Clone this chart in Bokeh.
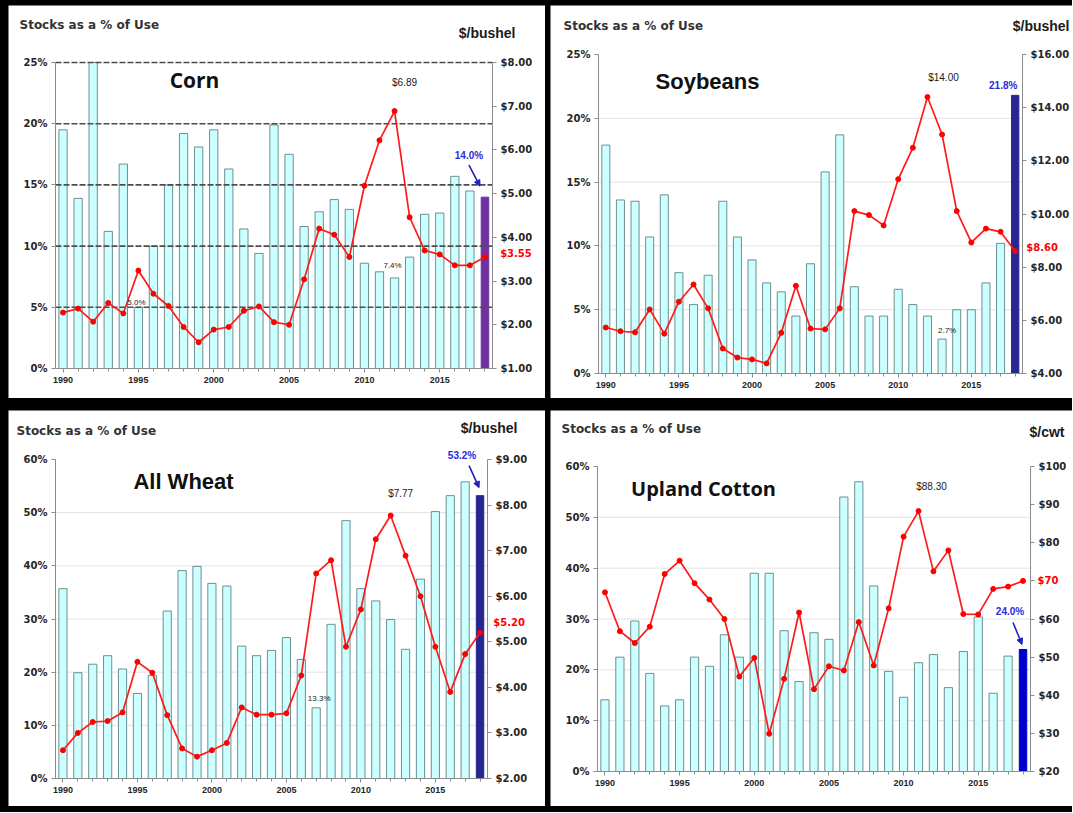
from bokeh.plotting import figure
from bokeh.models import (Range1d, LinearAxis, FixedTicker, PrintfTickFormatter,
                          NumeralTickFormatter, Label, Arrow, NormalHead)
from bokeh.layouts import row, column
from bokeh.embed import file_html
from bokeh.resources import INLINE
from bokeh.core.properties import value

# ---------------- data ----------------
years = list(range(1990, 2019))
year_ticks = [1990, 1995, 2000, 2005, 2010, 2015]

corn_stocks = [19.5, 13.9, 25.0, 11.2, 16.7, 5.0, 10.0, 15.0, 19.2, 18.1, 19.5, 16.3, 11.4, 9.4,
               19.9, 17.5, 11.6, 12.8, 13.8, 13.0, 8.6, 7.9, 7.4, 9.1, 12.6, 12.7, 15.7, 14.5, 14.0]
corn_price = [2.28, 2.37, 2.07, 2.50, 2.26, 3.24, 2.71, 2.43, 1.95, 1.60, 1.89, 1.95, 2.32, 2.42,
              2.06, 2.00, 3.04, 4.20, 4.06, 3.55, 5.18, 6.22, 6.89, 4.46, 3.70, 3.61, 3.36, 3.36, 3.55]

soy_stocks = [17.9, 13.6, 13.5, 10.7, 14.0, 7.9, 5.4, 7.7, 13.5, 10.7, 8.9, 7.1, 6.4, 4.5,
              8.6, 15.8, 18.7, 6.8, 4.5, 4.5, 6.6, 5.4, 4.5, 2.7, 5.0, 5.0, 7.1, 10.2, 21.8]
soy_price = [5.73, 5.59, 5.55, 6.41, 5.50, 6.70, 7.35, 6.45, 4.94, 4.60, 4.53, 4.38, 5.53, 7.30,
             5.69, 5.66, 6.45, 10.11, 9.96, 9.57, 11.31, 12.49, 14.40, 12.99, 10.11, 8.93, 9.45, 9.33, 8.60]

wheat_stocks = [35.7, 19.9, 21.5, 23.1, 20.6, 16.0, 19.4, 31.5, 39.1, 39.9, 36.7, 36.2, 24.9, 23.1,
                24.1, 26.5, 22.4, 13.3, 29.0, 48.5, 35.7, 33.4, 29.9, 24.3, 37.5, 50.2, 53.2, 55.8, 53.2]
wheat_price = [2.62, 3.00, 3.24, 3.26, 3.45, 4.56, 4.32, 3.39, 2.66, 2.48, 2.62, 2.78, 3.56, 3.40,
               3.40, 3.43, 4.26, 6.50, 6.79, 4.89, 5.71, 7.25, 7.77, 6.89, 6.00, 4.89, 3.90, 4.73, 5.20]

cotton_stocks = [14.1, 22.5, 29.6, 19.3, 12.9, 14.1, 22.5, 20.7, 26.9, 22.5, 39.0, 39.0, 27.7, 17.7,
                 27.3, 26.0, 54.0, 57.0, 36.5, 19.7, 14.6, 21.4, 23.0, 16.5, 23.6, 30.4, 15.4, 22.7, 24.0]
cotton_price = [67.0, 56.8, 53.7, 58.0, 71.8, 75.3, 69.4, 65.1, 60.0, 44.9, 49.8, 29.9, 44.3, 61.7,
                41.6, 47.6, 46.5, 59.2, 47.8, 62.8, 81.6, 88.3, 72.5, 78.0, 61.3, 61.2, 67.9, 68.5, 70.0]

titles = ["Corn", "Soybeans", "All Wheat", "Upland Cotton"]
left_axis_title = "Stocks as a % of Use"
units = ["$/bushel", "$/bushel", "$/bushel", "$/cwt"]
peak_labels = ["$6.89", "$14.00", "$7.77", "$88.30"]
low_label_years = [[1995, 2012], [2013], [2007], []]

pct_ticks_25 = [0, 5, 10, 15, 20, 25]
pct_ticks_60 = [0, 10, 20, 30, 40, 50, 60]
corn_price_ticks = [1, 2, 3, 4, 5, 6, 7, 8]
soy_price_ticks = [4, 6, 8, 10, 12, 14, 16]
wheat_price_ticks = [2, 3, 4, 5, 6, 7, 8, 9]
cotton_price_ticks = [20, 30, 40, 50, 60, 70, 80, 90, 100]

# ---------------- styling per panel ----------------
FONT = "DejaVu Sans"
X0, X1 = 1989.5, 2018.5   # x-range between the two value axes

# L/R/T/B: pixel position (within the panel) of left axis, right axis, top tick, zero line
cfgs = [
    dict(stocks=corn_stocks, price=corn_price, pct_ticks=pct_ticks_25, price_ticks=corn_price_ticks,
         price_fmt="$0.00", W=537, H=393, L=47, R=484, T=57, B=363,
         title_font="Open Sans", title_size="21px", title_pos=(186, 74),
         stk_pos=(11, 19), unit_pos=(507, 27),
         last_color="#7030a0", dark_grid=True,
         blue=(-16, -42), arrow=(-16, -32, -5, -11), red=(31, -4), peak=(10, -29),
         low=[(-2, -5), (-2, -12)], hide_tick=None),
    dict(stocks=soy_stocks, price=soy_price, pct_ticks=pct_ticks_25, price_ticks=soy_price_ticks,
         price_fmt="$0.00", W=522, H=393, L=48, R=472, T=49, B=368,
         title_font="Liberation Sans", title_size="22px", title_pos=(157, 76),
         stk_pos=(13, 20), unit_pos=(519, 20),
         last_color="#27288f", dark_grid=False,
         blue=(-12, -10), arrow=None, red=(27, -4), peak=(16, -20),
         low=[(5, -9)], hide_tick=None),
    dict(stocks=wheat_stocks, price=wheat_price, pct_ticks=pct_ticks_60, price_ticks=wheat_price_ticks,
         price_fmt="$0.00", W=537, H=396, L=47, R=479, T=49, B=368,
         title_font="Liberation Sans", title_size="22px", title_pos=(175, 71),
         stk_pos=(8, 20), unit_pos=(509, 17),
         last_color="#262691", dark_grid=False,
         blue=(-18, -40), arrow=(-11, -30, -1, -8), red=(29, -10), peak=(10, -22),
         low=[(3, -9)], hide_tick=None),
    dict(stocks=cotton_stocks, price=cotton_price, pct_ticks=pct_ticks_60, price_ticks=cotton_price_ticks,
         price_fmt="$0", W=522, H=396, L=47, R=480, T=56, B=361,
         title_font="Open Sans", title_size="20px", title_pos=(153, 78),
         stk_pos=(11, 18), unit_pos=(514, 21),
         last_color="#0000cc", dark_grid=False,
         blue=(-13, -38), arrow=(-10, -27, -1, -5), red=(25, 0), peak=(13, -25),
         low=[], hide_tick=70),
]


def make_panel(i, c):
    stocks, price = c["stocks"], c["price"]
    ymax = c["pct_ticks"][-1]
    pmin, pmax = c["price_ticks"][0], c["price_ticks"][-1]
    W, H, L, R, T, B = c["W"], c["H"], c["L"], c["R"], c["T"], c["B"]
    ux = (X1 - X0) / (R - L)          # years per px
    us = ymax / (B - T)               # stock % per px
    up = (pmax - pmin) / (B - T)      # price per px

    p = figure(width=W, height=H, output_backend="svg", toolbar_location=None,
               x_range=Range1d(X0 - L * ux, X0 + (W - L) * ux),
               y_range=Range1d(-(H - B) * us, B * us),
               min_border_left=0, min_border_right=0, min_border_top=0, min_border_bottom=0,
               background_fill_color="white", border_fill_color="white")
    p.extra_y_ranges = {"price": Range1d(pmin - (H - B) * up, pmin + B * up)}
    p.outline_line_color = None
    p.xgrid.visible = False
    p.ygrid.visible = False

    # axes (all drawn inside the frame at fixed locations)
    p.xaxis.ticker = FixedTicker(ticks=year_ticks, minor_ticks=years)
    p.xaxis.fixed_location = 0
    p.xaxis.bounds = (X0, X1)
    p.yaxis.ticker = FixedTicker(ticks=c["pct_ticks"])
    p.yaxis.formatter = PrintfTickFormatter(format="%d%%")
    p.yaxis.fixed_location = X0
    p.yaxis.bounds = (0, ymax)
    ra = LinearAxis(y_range_name="price", ticker=FixedTicker(ticks=c["price_ticks"]),
                    formatter=NumeralTickFormatter(format=c["price_fmt"]),
                    fixed_location=X1, bounds=(pmin, pmax))
    if c["hide_tick"] is not None:
        ra.major_label_overrides = {c["hide_tick"]: ""}
    p.add_layout(ra, "right")
    for ax in p.xaxis + p.yaxis + [ra]:
        ax.axis_line_color = "#8c8c8c"
        ax.major_tick_line_color = "#8c8c8c"
        ax.minor_tick_line_color = "#8c8c8c"
        ax.major_tick_in = 0
        ax.major_tick_out = 4
        ax.minor_tick_in = 0
        ax.minor_tick_out = 3
        ax.major_label_text_color = "#262626"
        ax.major_label_text_font = FONT
        ax.major_label_text_font_style = "bold"
        ax.major_label_standoff = 4
    p.xaxis.major_label_text_font = "Liberation Sans"
    p.xaxis.major_label_text_font_size = "9px"
    p.yaxis.major_label_text_font_size = "10px"
    ra.major_label_text_font_size = "10px"
    ra.minor_tick_line_color = None
    p.yaxis.minor_tick_line_color = None

    grid_levels = c["pct_ticks"][1:] if c["dark_grid"] else c["pct_ticks"][1:-1]
    if not c["dark_grid"]:
        p.segment(x0=X0, x1=X1, y0=grid_levels, y1=grid_levels, line_color="#e2e2e2", line_width=1)

    # bars
    p.vbar(x=years[:-1], top=stocks[:-1], width=0.55, bottom=0,
           fill_color="#ccffff", line_color="#5f8383", line_width=0.9)
    p.vbar(x=years[-1:], top=stocks[-1:], width=0.5, bottom=0,
           fill_color=c["last_color"], line_color=c["last_color"])

    if c["dark_grid"]:
        p.segment(x0=X0, x1=X1, y0=grid_levels, y1=grid_levels,
                  line_color="#4d4d4d", line_width=1.6, line_dash="6 2")

    # price line
    p.line(years, price, y_range_name="price", line_color="#ff1a1a", line_width=1.7)
    p.scatter(years, price, y_range_name="price", size=5, fill_color="#ff0000",
              line_color="#ff0000")

    # peak label
    k = price.index(max(price))
    dx, dy = c["peak"]
    p.text(x=[years[k]], y=[price[k]], text=[peak_labels[i]], y_range_name="price",
           x_offset=dx, y_offset=dy, text_align="center", text_baseline="middle",
           text_font=value("Liberation Sans"), text_font_size="10px", text_color="#1a1a1a")

    # low stocks labels
    for yr, (dx, dy) in zip(low_label_years[i], c["low"]):
        j = years.index(yr)
        p.text(x=[yr], y=[stocks[j]], text=["%.1f%%" % stocks[j]], x_offset=dx, y_offset=dy,
               text_align="center", text_baseline="middle",
               text_font=value("Liberation Sans"), text_font_size="8px", text_color="#222222")

    # latest stocks label (blue)
    dx, dy = c["blue"]
    p.text(x=[years[-1]], y=[stocks[-1]], text=["%.1f%%" % stocks[-1]], x_offset=dx, y_offset=dy,
           text_align="center", text_baseline="middle", text_font=value("Liberation Sans"),
           text_font_size="10px", text_font_style="bold", text_color="#2a2ae0")
    if c["arrow"]:
        a0, b0, a1, b1 = c["arrow"]
        p.add_layout(Arrow(x_start=years[-1] + a0 * ux, y_start=stocks[-1] - b0 * us,
                           x_end=years[-1] + a1 * ux, y_end=stocks[-1] - b1 * us,
                           line_color="#2020c0", line_width=1.6,
                           end=NormalHead(size=6, fill_color="#2020c0", line_color="#2020c0")))

    # latest price label (red)
    dx, dy = c["red"]
    txt = ("$%.0f" % price[-1]) if c["price_fmt"] == "$0" else ("$%.2f" % price[-1])
    p.text(x=[years[-1]], y=[price[-1]], text=[txt], y_range_name="price",
           x_offset=dx, y_offset=dy, text_align="center", text_baseline="middle",
           text_font=value(FONT), text_font_size="10px", text_font_style="bold",
           text_color="#ff0000")

    # titles (screen units: from the frame's bottom-left corner = panel's bottom-left)
    def lab(pos, **kw):
        p.add_layout(Label(x=pos[0], y=H - pos[1], x_units="screen", y_units="screen",
                           text_baseline="middle", **kw))
    lab(c["title_pos"], text=titles[i], text_font=c["title_font"], text_font_size=c["title_size"],
        text_font_style="bold", text_align="center", text_color="#111111")
    lab(c["stk_pos"], text=left_axis_title, text_font=FONT, text_font_size="12px",
        text_font_style="bold", text_align="left", text_color="#333333")
    lab(c["unit_pos"], text=units[i], text_font="Liberation Sans", text_font_size="14px",
        text_font_style="bold", text_align="right", text_color="#1a1a1a")
    return p


panels = [make_panel(i, c) for i, c in enumerate(cfgs)]
layout = column(row(panels[0], panels[1], spacing=5), row(panels[2], panels[3], spacing=5),
                spacing=12, styles={"background-color": "black", "padding": "5px 0px 6px 8px"})

open("out.html", "w").write(file_html(layout, INLINE))
